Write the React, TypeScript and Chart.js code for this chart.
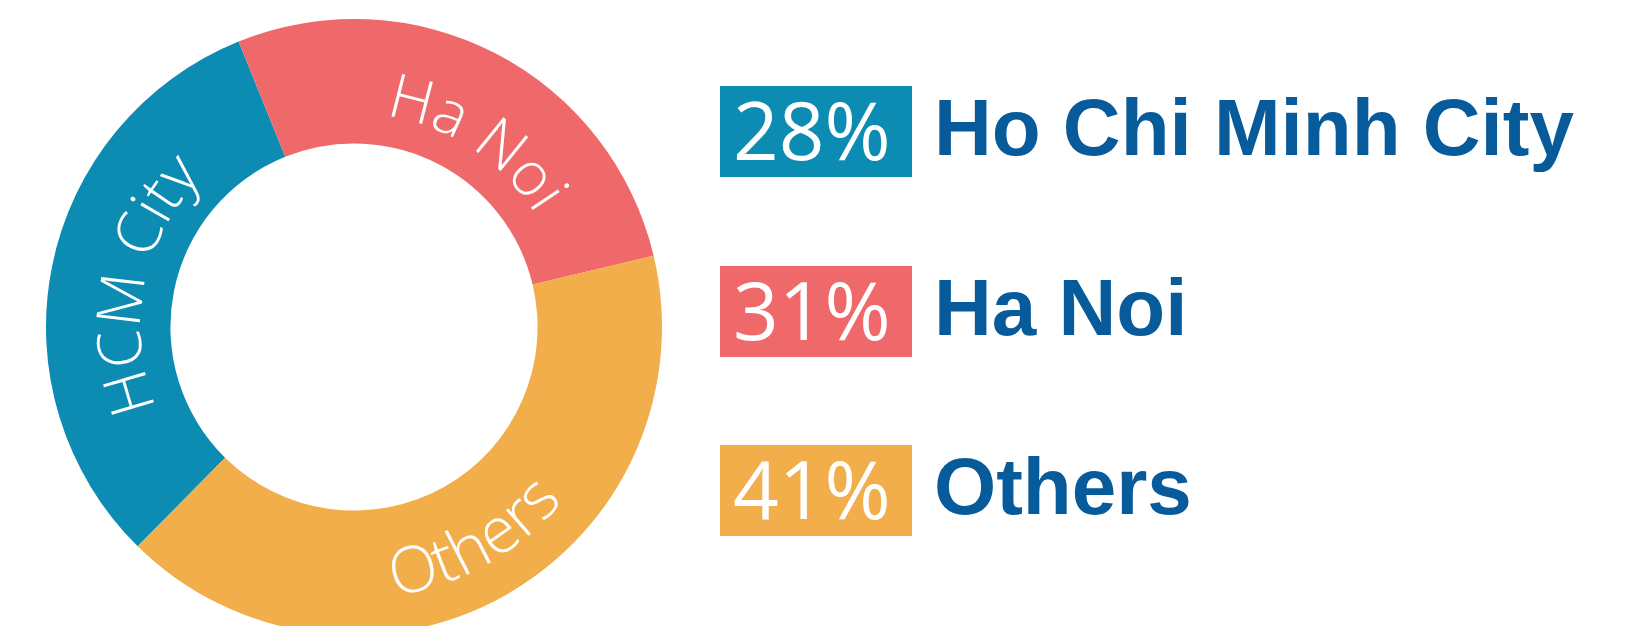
import React, { useEffect, useRef } from "react";
import { Chart, registerables } from "chart.js";

Chart.register(...registerables);

// ---- data ----
const sliceLabels = ["HCM City", "Ha Noi", "Others"];
const sliceValues = [31.5, 27.4, 41.1];
const sliceColors = ["#0C8BB3", "#EF686A", "#F2AE4A"];
const legendPercents = ["28%", "31%", "41%"];
const legendNames = ["Ho Chi Minh City", "Ha Noi", "Others"];

// style: angular nudge of each curved label (degrees, clockwise) and font size
const labelShiftDeg = [0, 6, 0];
const labelFontPx = [61, 61, 64];

const curvedLabelPlugin = {
  id: "curvedLabels",
  afterDatasetsDraw(chart: any) {
    const ctx = chart.ctx as CanvasRenderingContext2D;
    const meta = chart.getDatasetMeta(0);
    const labels = chart.data.labels as string[];
    ctx.save();
    ctx.fillStyle = "#ffffff";
    ctx.textAlign = "center";
    ctx.textBaseline = "alphabetic";
    meta.data.forEach((arc: any, i: number) => {
      const { x, y, startAngle, endAngle, innerRadius, outerRadius } = arc.getProps(
        ["x", "y", "startAngle", "endAngle", "innerRadius", "outerRadius"],
        true
      );
      ctx.font = `300 ${labelFontPx[i]}px 'Open Sans', sans-serif`;
      const text = labels[i];
      const mid = (startAngle + endAngle) / 2 + (labelShiftDeg[i] * Math.PI) / 180;
      const flipped = Math.sin(mid) > 0;
      const thick = outerRadius - innerRadius;
      const r = flipped ? innerRadius + 0.71 * thick : innerRadius + 0.24 * thick;
      const total = ctx.measureText(text).width;
      const totalAng = total / r;
      for (let k = 0; k < text.length; k++) {
        const ch = text[k];
        const off = ctx.measureText(text.slice(0, k)).width;
        const w = ctx.measureText(ch).width;
        let a: number;
        if (!flipped) {
          a = mid - totalAng / 2 + (off + w / 2) / r;
        } else {
          a = mid + totalAng / 2 - (off + w / 2) / r;
        }
        ctx.save();
        ctx.translate(x + r * Math.cos(a), y + r * Math.sin(a));
        ctx.rotate(flipped ? a - Math.PI / 2 : a + Math.PI / 2);
        ctx.fillText(ch, 0, 0);
        ctx.restore();
      }
    });
    ctx.restore();
  },
};

function DonutChart() {
  const ref = useRef<HTMLCanvasElement | null>(null);
  useEffect(() => {
    if (!ref.current) return;
    const chart = new Chart(ref.current, {
      type: "doughnut",
      data: {
        labels: sliceLabels,
        datasets: [
          {
            data: sliceValues,
            backgroundColor: sliceColors,
            borderWidth: 0,
            hoverOffset: 0,
          },
        ],
      },
      options: {
        responsive: false,
        animation: false,
        rotation: 224.6,
        cutout: "59.6%",
        events: [],
        layout: { padding: 0 },
        plugins: {
          legend: { display: false },
          tooltip: { enabled: false },
        },
      },
      plugins: [curvedLabelPlugin],
    });
    return () => chart.destroy();
  }, []);
  return (
    <canvas
      ref={ref}
      width={616}
      height={616}
      style={{ position: "absolute", left: 46, top: 18.5, width: 616, height: 616 }}
    />
  );
}

export default function App() {
  const boxTops = [86, 265.5, 445];
  return (
    <div
      style={{
        position: "absolute",
        left: 0,
        top: 0,
        width: "100vw",
        height: "100vh",
        overflow: "hidden",
        background: "#ffffff",
      }}
    >
      <DonutChart />
      {legendNames.map((name, i) => (
        <React.Fragment key={name}>
          <div
            style={{
              position: "absolute",
              left: 720,
              top: boxTops[i],
              width: 192,
              height: 91,
              background: sliceColors[i],
              color: "#ffffff",
              fontFamily: "'Open Sans', sans-serif",
              fontWeight: 400,
              fontSize: 80,
              lineHeight: "91px",
              boxSizing: "border-box",
              paddingLeft: 13,
              whiteSpace: "nowrap",
            }}
          >
            <span style={{ position: "relative", top: -3 }}>{legendPercents[i]}</span>
          </div>
          <div
            style={{
              position: "absolute",
              left: 934,
              top: boxTops[i] - 4,
              height: 91,
              lineHeight: "91px",
              color: "#075B9A",
              fontFamily: "'Liberation Sans', Arial, sans-serif",
              fontWeight: 700,
              fontSize: 80,
              whiteSpace: "nowrap",
            }}
          >
            {name}
          </div>
        </React.Fragment>
      ))}
    </div>
  );
}
